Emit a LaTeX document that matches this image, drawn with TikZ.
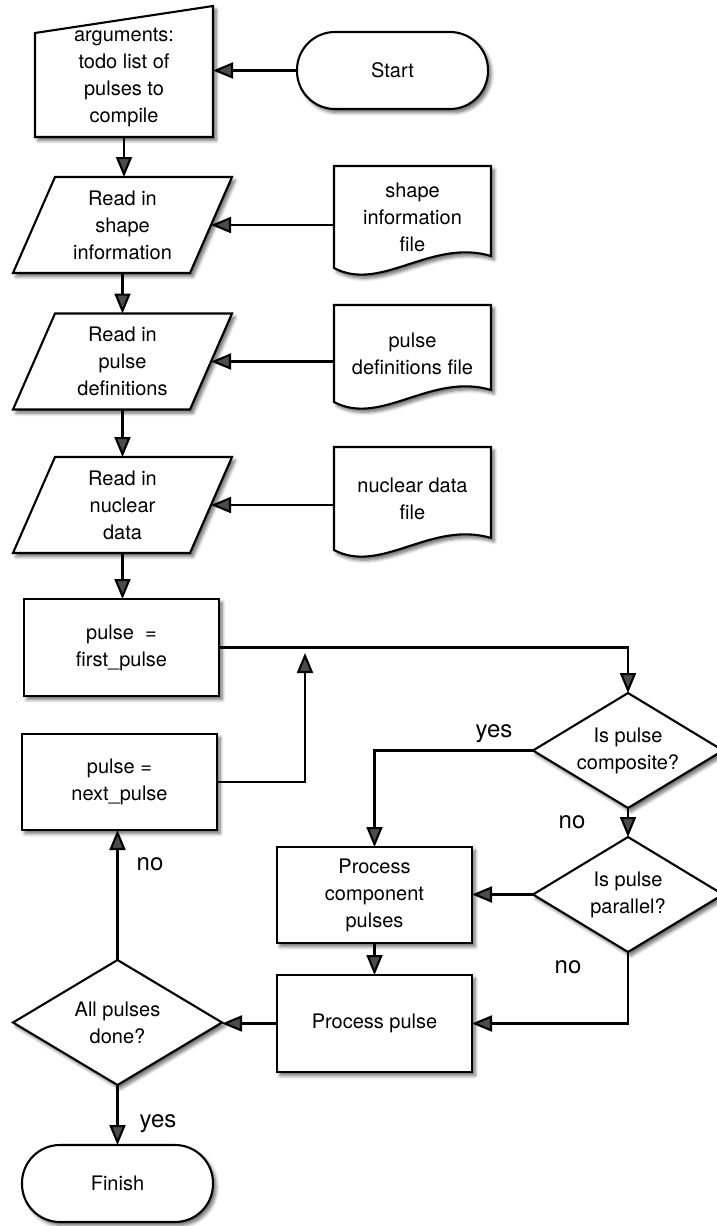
\documentclass[tikz,border=0pt]{standalone}
\usepackage{fontspec}
\setmainfont{TeX Gyre Heros}
\usetikzlibrary{arrows.meta,calc,shadows.blur}
\pgfdeclarelayer{bg}
\pgfsetlayers{bg,main}
\tikzset{
  shd/.style={blur shadow={shadow xshift=3pt,shadow yshift=-3.5pt,shadow blur radius=3.5pt,shadow opacity=60,shadow blur steps=6}},
  shp/.style={draw=black,line width=2.1pt,fill=white,line join=miter,shd},
  nodefont/.style={font=\fontsize{20}{27}\selectfont},
  ghost/.style={rectangle,inner sep=0pt,outer sep=0pt,align=center,nodefont},
  procbox/.style={rectangle,shp,inner sep=0pt,outer sep=0pt,align=center,nodefont},
  term/.style={procbox,rounded corners=38pt},
  arr/.style={line width=2.1pt,-{Triangle[length=20pt,width=16pt]}},
  lbl/.style={font=\fontsize{24}{28}\selectfont,anchor=base,inner sep=0pt}
}
\begin{document}
\begin{tikzpicture}[x=1pt,y=-1pt]
\useasboundingbox (0,0) rectangle (717,1226);
% ---- nodes
\node[term,minimum width=191pt,minimum height=77pt] (start) at (392.5,70.5) {Start};
\node[ghost,minimum width=178pt,minimum height=131pt] (args) at (124,71.5) {};
\node[ghost] (argst) at (124,77) {arguments:\\todo list of\\pulses to\\compile};
\node[ghost,minimum width=219pt,minimum height=96pt] (p1) at (122.5,225) {Read in\\shape\\information};
\node[ghost,minimum width=219pt,minimum height=96pt] (p2) at (122.5,361.5) {Read in\\pulse\\definitions};
\node[ghost,minimum width=219pt,minimum height=96pt] (p3) at (122.5,505) {Read in\\nuclear\\data};
\node[ghost,minimum width=157pt,minimum height=102pt] (d1) at (412.5,217) {shape\\information\\file};
\node[ghost,minimum width=157pt,minimum height=97pt] (d2) at (412.5,353.5) {pulse\\definitions file};
\node[ghost,minimum width=157pt,minimum height=103pt] (d3) at (412.5,498.5) {nuclear data\\file};
\node[procbox,minimum width=195pt,minimum height=97pt] (r1) at (121.5,647.5) {pulse\ \ =\\first\_pulse};
\node[procbox,minimum width=195pt,minimum height=96pt] (r2) at (119.5,782) {pulse =\\next\_pulse};
\node[ghost,minimum width=190pt,minimum height=115pt] (dA) at (628,750.5) {Is pulse\\composite?};
\node[ghost,minimum width=190pt,minimum height=115pt] (dB) at (628,894.5) {Is pulse\\parallel?};
\node[procbox,minimum width=195pt,minimum height=96pt] (pc) at (374.5,895) {Process\\component\\pulses};
\node[procbox,minimum width=195pt,minimum height=97pt] (pp) at (374.5,1023.5) {Process pulse};
\node[ghost,minimum width=209pt,minimum height=125pt] (dC) at (117.5,1022.5) {All pulses\\done?};
\node[term,minimum width=191pt,minimum height=77pt] (fin) at (117.5,1183.5) {Finish};
% ---- outlines of special shapes
\begin{pgfonlayer}{bg}
\draw[shp] ($(args.north west)+(0,27)$) -- (args.north east) -- (args.south east) -- (args.south west) -- cycle;
\foreach \p in {p1,p2,p3}
  \draw[shp] ($(\p.north west)+(42,0)$) -- (\p.north east) -- ($(\p.south east)+(-42,0)$) -- (\p.south west) -- cycle;
\foreach \d in {d1,d2,d3}
  \draw[shp] (\d.north west) -- (\d.north east) -- ($(\d.south east)+(0,-12)$)
    .. controls ($(\d.south west)+(97,-30)$) and ($(\d.south west)+(47,25)$) .. (\d.south west) -- cycle;
\foreach \q in {dA,dB,dC}
  \draw[shp] (\q.north) -- (\q.east) -- (\q.south) -- (\q.west) -- cycle;
\end{pgfonlayer}
% ---- helper coordinates
\coordinate (p1r) at ($(p1.east)+(-21,0)$);
\coordinate (p2r) at ($(p2.east)+(-21,0)$);
\coordinate (p3r) at ($(p3.east)+(-21,0)$);
\coordinate (j) at (305,653);
% ---- connectors
\draw[arr] (start.west) -- (start.west -| args.east);
\draw[arr] (args.south) -- (args.south |- p1.north);
\draw[arr] (d1.west |- p1r) -- (p1r);
\draw[arr] (d2.west |- p2r) -- (p2r);
\draw[arr] (d3.west |- p3r) -- (p3r);
\draw[arr] (p1.south) -- (p2.north);
\draw[arr] (p2.south) -- (p3.north);
\draw[arr] (p3.south) -- (p3.south |- r1.north);
\draw[arr] (r1.east) -| (dA.north);
\draw[arr] (r2.east) -| (j);
\draw[arr] (dA.west) -| (pc.north);
\draw[arr] (dA.south) -- (dB.north);
\draw[arr] (dB.west) -- (dB.west -| pc.east);
\draw[arr] (dB.south) |- (pp.east);
\draw[arr] (pc.south) -- (pp.north);
\draw[arr] (pp.west) -- (pp.west -| dC.east);
\draw[arr] (dC.north) -- (dC.north |- r2.south);
\draw[arr] (dC.south) -- (fin.north);
% ---- labels
\node[lbl] (l1) at (494,737) {yes};
\node[lbl] (l2) at (572,828) {no};
\node[lbl] (l3) at (568,973) {no};
\node[lbl] (l4) at (150,870) {no};
\node[lbl] (l5) at (158,1127) {yes};
\end{tikzpicture}
\end{document}
